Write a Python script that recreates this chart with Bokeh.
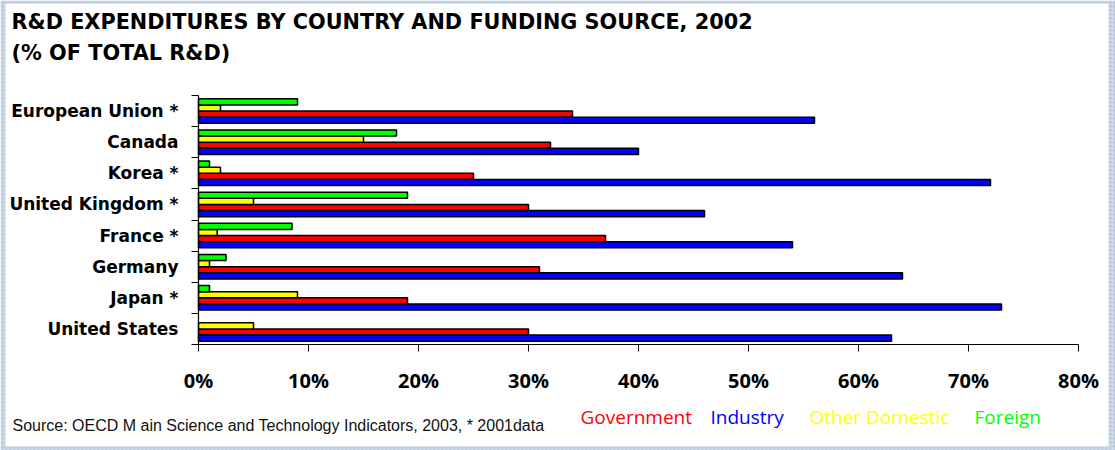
from bokeh.plotting import figure
from bokeh.models import (ColumnDataSource, Range1d, FixedTicker, Label, BoxAnnotation)
from bokeh.embed import file_html
from bokeh.resources import INLINE

# ---- data (top to bottom as in the chart) ----
countries = ["European Union *", "Canada", "Korea *", "United Kingdom *",
             "France *", "Germany", "Japan *", "United States"]
government = [34, 32, 25, 30, 37, 31, 19, 30]
industry = [56, 40, 72, 46, 54, 64, 73, 63]
other_domestic = [2, 15, 2, 5, 1.7, 1, 9, 5]
foreign = [9, 18, 1, 19, 8.5, 2.5, 1, 0]
x_ticks = [0, 10, 20, 30, 40, 50, 60, 70, 80]
x_tick_labels = ["0%", "10%", "20%", "30%", "40%", "50%", "60%", "70%", "80%"]
series_names = ["Government", "Industry", "Other Domestic", "Foreign"]
series_colors = ["#FF0000", "#0000FF", "#FFFF00", "#00FF00"]

n = len(countries)
centers = [n - k - 0.5 for k in range(n)]

# ---- layout in pixels ----
W, H = 1115, 450
AX_L, AX_R = 198, 1078      # x pixel of 0% and 80%
AX_T, AX_B = 95, 344        # y pixel of top and bottom of the category axis
XMAX = 80
px_x = (AX_R - AX_L) / XMAX
px_y = (AX_B - AX_T) / n
x_range = Range1d(-AX_L / px_x, (W - AX_L) / px_x)
y_range = Range1d(-(H - AX_B) / px_y, AX_B / px_y)

p = figure(width=W, height=H, output_backend="svg", toolbar_location=None,
           x_range=x_range, y_range=y_range, min_border=0,
           min_border_left=0, min_border_right=0, min_border_top=0, min_border_bottom=0)
p.background_fill_color = "white"
p.border_fill_color = "white"
p.outline_line_color = None
p.grid.grid_line_color = None

bar_h = 0.196
offsets = {"Foreign": 0.294, "Other Domestic": 0.098, "Government": -0.098, "Industry": -0.294}
values = {"Government": government, "Industry": industry,
          "Other Domestic": other_domestic, "Foreign": foreign}
for name, color in zip(series_names, series_colors):
    ys, xs = [], []
    for c, v in zip(centers, values[name]):
        if v > 0:
            ys.append(c + offsets[name])
            xs.append(v)
    src = ColumnDataSource(dict(y=ys, right=xs))
    p.hbar(y="y", right="right", left=0, height=bar_h, source=src,
           fill_color=color, line_color="black", line_width=1.5)

# x axis
xa = p.xaxis[0]
xa.fixed_location = 0
xa.bounds = (0, XMAX)
xa.ticker = FixedTicker(ticks=x_ticks, minor_ticks=[])
xa.major_label_overrides = {t: l for t, l in zip(x_ticks, x_tick_labels)}
xa.major_tick_out = 7
xa.major_tick_in = 0
xa.minor_tick_out = 0
xa.major_tick_line_color = "black"
xa.axis_line_color = "black"
xa.axis_line_width = 1.2
xa.major_label_text_font = "Open Sans"
xa.major_label_text_font_style = "bold"
xa.major_label_text_font_size = "20px"
xa.major_label_text_color = "black"
xa.major_label_standoff = 15

# y axis: labels at category centres, ticks at category boundaries
ya = p.yaxis[0]
ya.fixed_location = 0
ya.bounds = (0, n)
ya.ticker = FixedTicker(ticks=centers, minor_ticks=list(range(n + 1)))
ya.major_label_overrides = {c: name for c, name in zip(centers, countries)}
ya.major_tick_out = 0
ya.major_tick_in = 0
ya.minor_tick_out = 7
ya.minor_tick_in = 0
ya.minor_tick_line_color = "black"
ya.axis_line_color = "black"
ya.axis_line_width = 1.2
ya.major_label_text_font = "DejaVu Sans"
ya.major_label_text_font_style = "bold"
ya.major_label_text_font_size = "17px"
ya.major_label_text_color = "black"
ya.major_label_standoff = 13


def sy(cy):
    return H - cy


# title
for txt, base in [("R&D EXPENDITURES BY COUNTRY AND FUNDING SOURCE, 2002", 21),
                  ("(% OF TOTAL R&D)", 52)]:
    p.add_layout(Label(x=11, y=sy(base), x_units="screen", y_units="screen",
                       text=txt, text_font="DejaVu Sans", text_font_style="bold",
                       text_font_size="20.8px", text_color="black",
                       text_baseline="alphabetic", text_align="left"))

# source note
p.add_layout(Label(x=12, y=sy(425), x_units="screen", y_units="screen",
                   text="Source:  OECD M ain Science and Technology Indicators, 2003, * 2001data",
                   text_font="Liberation Sans", text_font_size="16px", text_color="#111111",
                   text_baseline="alphabetic", text_align="left"))

# legend texts
legend_x = [580, 710, 809, 974]
for name, color, lx in zip(series_names, series_colors, legend_x):
    p.add_layout(Label(x=lx, y=sy(416), x_units="screen", y_units="screen",
                       text=name, text_font="Open Sans", text_font_size="19px",
                       text_color=color, text_baseline="alphabetic", text_align="left"))

# dotted frame around the whole picture
for (l, r, t, b) in [(0, 5, 0, H), (0, W, 0, 3), (W - 7, W, 0, H), (0, W, H - 4, H)]:
    p.add_layout(BoxAnnotation(left=l, right=r, top=sy(t), bottom=sy(b),
                               left_units="screen", right_units="screen",
                               top_units="screen", bottom_units="screen",
                               fill_color="#cad7e7", fill_alpha=1.0,
                               hatch_pattern="dot", hatch_color="#a8bcd6", hatch_scale=4,
                               line_color=None, level="overlay"))

open("out.html", "w").write(file_html(p, INLINE))
